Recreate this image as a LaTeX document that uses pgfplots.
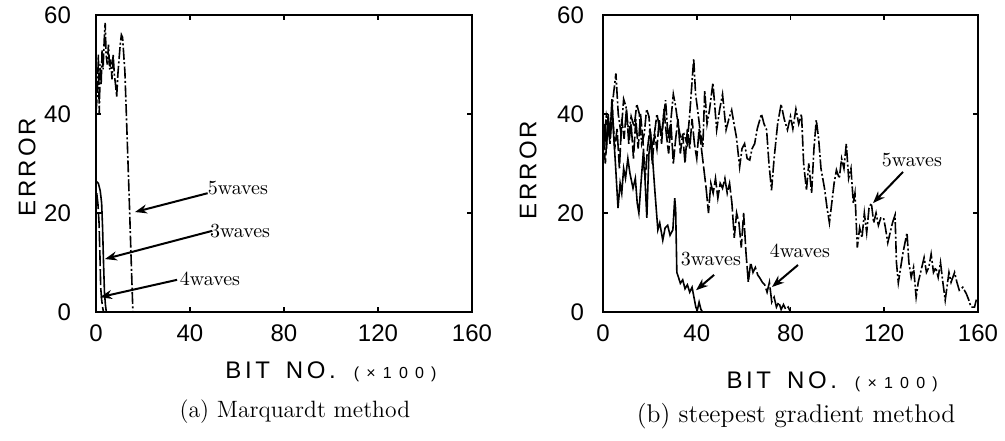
\documentclass[border=0pt]{standalone}
\usepackage{fontspec}
\usepackage{pgfplots}
\pgfplotsset{compat=1.18}
\usetikzlibrary{arrows.meta}
\newfontfamily\plotfont{Liberation Sans}
\newfontfamily\plotfontsp[LetterSpace=15]{Liberation Sans}
\newfontfamily\plotfonterr[LetterSpace=12]{Liberation Sans}
\newfontfamily\plotfontwide[LetterSpace=45]{Liberation Sans}

\pgfplotstableread{
x y
0 40.5
0.6 44
1.0 52
1.4 40
1.8 50
2.2 46
2.6 53
3.0 49
3.5 55
3.9 58.4
4.3 52
4.8 50
5.3 54
5.8 49
6.3 51
6.8 47
7.3 52
7.8 48
8.3 46
8.8 43.5
9.3 48
9.8 51
10.3 54
10.8 56
11.3 55.5
11.8 52
12.3 48.5
13.2 36
14.2 22
15.0 10
15.7 0
}\LfiveTab

\pgfplotstableread{
x y
0.3 26.3
1.0 26
1.8 24.5
2.4 22
2.8 17
3.2 10
3.6 4
4.0 1.5
4.4 0
}\LthreeTab

\pgfplotstableread{
x y
0.3 24
0.8 22
1.3 18
1.7 11
2.0 5
2.4 2.5
2.8 1
3.2 0
}\LfourTab

\pgfplotstableread{
x y
0 31
0.8 38
1.5 33
2.2 40
3 35
3.8 43
4.5 36
5.3 30
6.4 21
7.3 26
8.0 24
8.8 29
9.6 27
10.6 31
11.5 28
12.8 25
13.8 27
14.6 22
15.3 20
16.2 26
17.0 31
17.8 28
18.7 19
19.6 32
20.5 35
21.3 30
22.2 24
23.4 16.6
24.2 18
25.5 14.5
26.5 17
27.6 17.5
28.6 15.5
29.8 16.6
30.6 23
31.0 20.6
31.5 8
32.2 7
33 5.8
34 6.5
35 4.7
36 5.5
37 4
38 5
38.8 3
39.6 1
40.2 0.3
41 2
41.8 0.5
42.5 0
}\RthreeTab

\pgfplotstableread{
x y
0 36
1 30
2 38
3 34
4 41
5 33
6 37
7 29
8 39
9 35
10 41
11 34
12 38
13 31
14 39
15 33
16 40
17 35
18 27
19 33
20 37
21 30
22 36
23 33
24 39
25 34
26 41
27 36
28 32
29 38
30 30
31 35
32 39
33 32
34 36
35 30
36 37
37 33
38 39
39 34
40 31
41 37
42 33
43 29
44 25
45 20
46 26
47 24
48 27
49 23
50 26
51 25
52 27
53 24
54 26
55 22
56 15
57 20
58 18
59 13
60 20
61 12
62 6
63 10
64 8
65 9
66 7.5
67 6.8
68 6
69 5.5
70 4
71 6
72 2
73 3
74 1
75 2
76 0.5
77 1.5
78 0.5
79 1
80 0
}\RfourTab

\pgfplotstableread{
x y
0 32.7
1.4 39.5
2.7 35.4
4 42
5.5 48.2
6.5 40
7.7 36
8.8 43
9.8 41.5
11 36
12 39.5
13.3 37.4
14.4 42
15.5 40
16.5 34
17.6 36
18.6 41
19.6 39.5
20.7 33
21.8 35.4
23 40
23.8 38
25 36
26.7 42.8
27.8 35
28.8 38
30 44
31 41.5
32 38
33 35.4
34.5 36
35.9 34
37 40
38.7 51.2
39.5 44
40.2 41.5
41.6 36
42.6 33.3
43.4 44.8
44.4 38
45.4 40.7
46.9 46.3
48.5 36.8
49.8 41
51 44
52.5 36.8
53.7 39
54.9 40.8
55.9 38
56.9 35.4
58.3 29.3
59.3 33
60.4 34
61.5 31
62.6 30.7
63.6 33
64.7 34
65.8 37
67.6 40
68.7 38
69.8 36.8
70.8 30
71.9 24.6
73 31
74.5 38
76 42
77.3 39
78.7 36.8
80 39.5
81 37
82.3 41
83.5 38
84.7 40
85.6 30
86.8 24.6
87.8 30
89 24
90 33
91 38.8
92 35
93 29
94.5 25
95.6 21
96.6 18
97.6 22
98.6 26
99.6 28.7
100.8 27
101.8 31
102.8 29
103.8 34
104.8 27
105.8 29
106.8 22
107.5 24
108.5 13
109.5 17
110.5 15
111.5 20
112.5 16
113.5 21
114.5 22
115.5 18
116.5 20
117.5 17.5
118.5 19
119.7 19
120.5 17
121.5 14
122.5 16
123.5 18
124.6 19.6
125.2 10
126 5.9
127 9
128 12
129.7 16
130.5 10
131.5 7
132.5 9
133.6 3
134.5 6
135.5 8
137 11
138 8
139 9
140 11.7
141 8
142 9
143 7
144 10
145 6
146 2.4
147.6 8
148.5 6
150 8
151 6
152 4.4
153.5 5
155 3.7
156 2.5
157 1
158.5 1
159.3 2.5
}\RfiveTab

\tikzset{
  lab/.style={font=\fontsize{10}{10}\selectfont},
  arr/.style={line width=1pt, -{Stealth[length=6pt,width=4.5pt]}},
}
\pgfplotsset{
  panel/.style={
    anchor=south west, scale only axis,
    height=148.5pt,
    xmin=0, xmax=160, ymin=0, ymax=60,
    xtick={0,40,80,120,160}, xticklabels={0,40,80,120,160},
    ytick={0,20,40,60}, yticklabels={0,20,40,60},
    tick align=inside, major tick length=2.5pt,
    axis line style={line width=0.8pt},
    tick style={line width=0.8pt, black},
    ticklabel style={font=\fontsize{12}{12}\plotfont},
    xticklabel style={yshift=-3pt},
    clip=false,
  },
  s3/.style={black, line width=0.8pt},
  s4/.style={black, line width=0.8pt, dash pattern=on 8pt off 1.5pt},
  s5/.style={black, line width=0.8pt, dash pattern=on 6pt off 1.2pt on 1pt off 1.2pt},
}

\newcommand{\bitlabel}{{\plotfontsp BIT}\hspace{8pt}{\plotfontsp NO.}\hspace{9pt}{\fontsize{8}{8}\plotfontwide (×100)}}

\begin{document}
\begin{tikzpicture}
\path[use as bounding box] (0pt,0pt) rectangle (502.5pt,220pt);

\begin{axis}[panel, at={(48pt,64pt)}, width=188pt, yticklabel style={xshift=-9pt}]
\addplot[s5] table {\LfiveTab};
\addplot[s3] table {\LthreeTab};
\addplot[s4] table {\LfourTab};
\node[lab] at (axis cs:60.4,25.05) {5waves};
\node[lab] at (axis cs:61.3,16.4) {3waves};
\node[lab] at (axis cs:48.5,6.7) {4waves};
\draw[arr] (axis cs:47.5,24.0) -- (axis cs:16.6,20.2);
\draw[arr] (axis cs:49.5,16.4) -- (axis cs:3.8,10.7);
\draw[arr] (axis cs:34.5,6.5) -- (axis cs:1.7,3.0);
\node[rotate=90, font=\fontsize{12}{12}\plotfonterr] at (axis description cs:-0.1835,0.488) {ERROR};
\node[font=\fontsize{12}{12}\selectfont] at (axis description cs:0.625,-0.202) {\bitlabel};
\node[font=\fontsize{11.8}{14}\selectfont] at (axis description cs:0.529,-0.335) {(a) Marquardt method};
\end{axis}

\begin{axis}[panel, at={(301.5pt,64pt)}, width=187.5pt, yticklabel style={xshift=-6pt}]
\addplot[s5] table {\RfiveTab};
\addplot[s4] table {\RfourTab};
\addplot[s3] table {\RthreeTab};
\node[lab] at (axis cs:46,10.6) {3waves};
\node[lab] at (axis cs:84,12.3) {4waves};
\node[lab] at (axis cs:131.8,30.7) {5waves};
\draw[arr] (axis cs:47.4,7.5) -- (axis cs:39.7,4.4);
\draw[arr] (axis cs:83.2,9.5) -- (axis cs:72.1,5.05);
\draw[arr] (axis cs:128,28.3) -- (axis cs:115.2,22);
\node[rotate=90, font=\fontsize{12}{12}\plotfonterr] at (axis description cs:-0.2,0.478) {ERROR};
\node[font=\fontsize{12}{12}\selectfont] at (axis description cs:0.611,-0.236) {\bitlabel};
\node[font=\fontsize{12.8}{14}\selectfont] at (axis description cs:0.515,-0.35) {(b) steepest gradient method};
\end{axis}
\end{tikzpicture}
\end{document}
